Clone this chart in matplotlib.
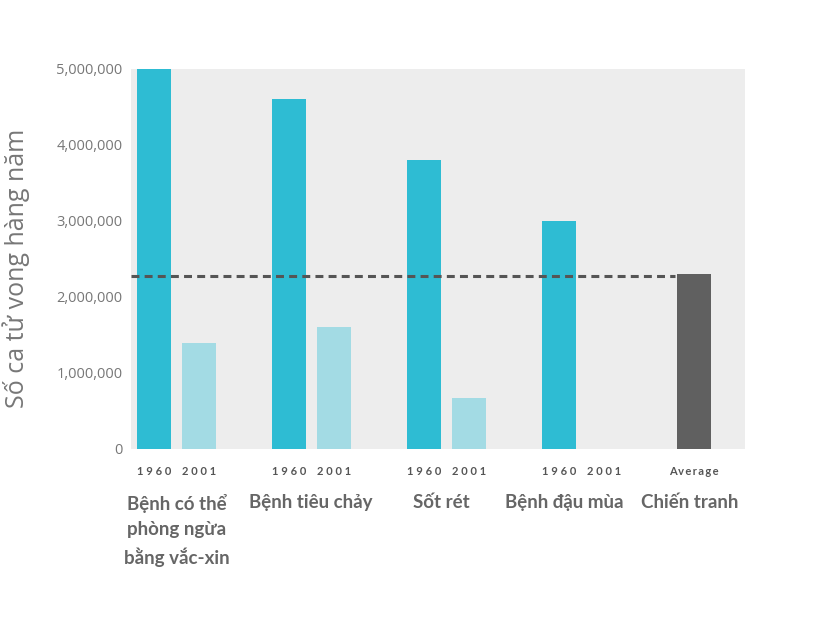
import numpy as np
import matplotlib.pyplot as plt
from matplotlib.ticker import FuncFormatter

categories = ["Bệnh có thể\nphòng ngừa\nbằng vắc-xin", "Bệnh tiêu chảy", "Sốt rét", "Bệnh đậu mùa"]
deaths_1960 = [5000000, 4600000, 3800000, 3000000]
deaths_2001 = [1400000, 1600000, 670000, 0]
war_label = "Chiến tranh"
war_average = 2300000
reference_line = 2270000
year_labels = ["1960", "2001"]

c1960 = "#2ebcd3"
c2001 = "#a3dbe4"
cavg = "#606060"

fig = plt.figure(figsize=(8.36, 6.21), dpi=100)
ax = fig.add_axes([0.1567, 0.277, 0.7343, 0.612])
ax.set_facecolor("#ededed")

x = np.arange(len(categories))
off = 1 / 3
w = 0.25
ax.bar(x, deaths_1960, width=w, color=c1960, zorder=2)
ax.bar(x + off, deaths_2001, width=w, color=c2001, zorder=2)
ax.bar(len(categories), war_average, width=w, color=cavg, zorder=2)

ax.set_xlim(-0.17, 4.378)
ax.set_ylim(0, 5000000)
ax.hlines(reference_line, -0.17, 3.86, colors="#555555", linestyles=(0, (2.6, 1.7)),
          linewidth=2.2, zorder=3)

for s in ax.spines.values():
    s.set_visible(False)

ax.set_yticks(np.arange(0, 5000001, 1000000))
ax.yaxis.set_major_formatter(FuncFormatter(lambda v, p: f"{int(v):,}"))
ax.tick_params(axis="y", length=0, pad=6, labelsize=10.5, labelcolor="#777777")
for t in ax.get_yticklabels():
    t.set_fontfamily("Open Sans")

ticks = list(np.concatenate([x, x + off])) + [len(categories)]
labels = [year_labels[0]] * len(x) + [year_labels[1]] * len(x) + ["Average"]
ax.set_xticks(ticks)
ax.set_xticklabels([" ".join(l) if l != "Average" else "\u2009".join(l) for l in labels])
ax.tick_params(axis="x", length=0, pad=12, labelsize=8, labelcolor="#555555")
for t in ax.get_xticklabels():
    t.set_fontfamily(["Lato", "DejaVu Sans"])
    t.set_fontweight("bold")

trans = ax.get_xaxis_transform()
group_names = categories + [war_label]
label_x = [0.17, 1.163, 2.126, 3.037, 3.97]
for cx, name in zip(label_x, group_names):
    ax.text(cx, -0.118, name, transform=trans, ha="center", va="top",
            fontsize=13.5, fontweight="bold", color="#666666", family="Lato",
            linespacing=1.58)

ax.set_ylabel("Số ca tử vong hàng năm", fontsize=18, color="#777777",
              family="Open Sans")
ax.yaxis.set_label_coords(-0.164, 0.474)

fig.savefig("out.png", dpi=100)
